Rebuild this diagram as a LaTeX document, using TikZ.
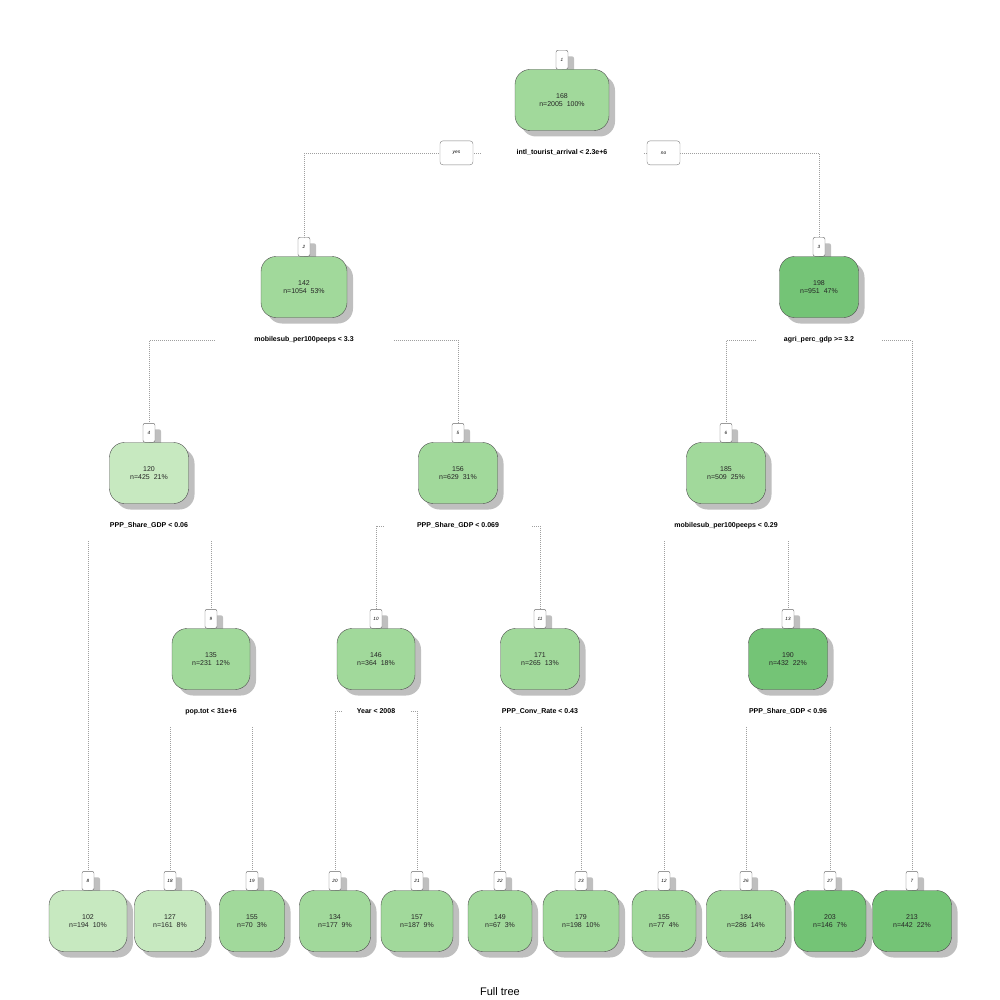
\documentclass[tikz,border=0pt]{standalone}
\usepackage{fontspec}
\setmainfont{Liberation Sans}
\usepackage{tikz}
\usetikzlibrary{positioning,calc,shadows}
\definecolor{leaflight}{HTML}{C7E9C0}
\definecolor{leafmid}{HTML}{A1D99B}
\definecolor{leafdark}{HTML}{74C476}

\begin{document}
\begin{tikzpicture}[x=1pt, y=-1pt,
treebox/.style = {draw=black!70, rounded corners=15pt, minimum height=61pt,
        inner sep=0pt, align=center, text=black!85, font=\fontsize{7}{7.5}\selectfont,
        drop shadow={shadow xshift=6pt, shadow yshift=-6pt, fill=black!25, opacity=1}},
tagbox/.style = {draw=black!60, fill=white, rounded corners=2pt, minimum width=12pt,
        minimum height=19pt, inner sep=0pt, font=\fontsize{4.6}{5}\selectfont\itshape,
        drop shadow={shadow xshift=6pt, shadow yshift=-6pt, fill=black!25, opacity=1}},
splitlab/.style = {inner sep=0pt, font=\fontsize{7}{8}\selectfont\bfseries},
yesno/.style = {draw=black!50, fill=white, rounded corners=3pt, minimum width=33pt,
        minimum height=24pt, inner sep=0pt, font=\fontsize{4.8}{5}\selectfont\itshape},
branch/.style = {draw=gray!75, dash pattern=on 0.5pt off 1.5pt, line width=0.5pt}
                    ]
\useasboundingbox (0,0) rectangle (1000,1000);
\def\treedata{1/562/100/168/2005/100/94/leafmid, 2/304/287/142/1054/53/86/leafmid,
  3/819/287/198/951/47/79/leafdark, 4/149/473/120/425/21/79/leaflight,
  5/458/473/156/629/31/79/leafmid, 6/726/473/185/509/25/79/leafmid,
  9/211/659/135/231/12/78/leafmid, 10/376/659/146/364/18/78/leafmid,
  11/540/659/171/265/13/79/leafmid, 13/788/659/190/432/22/79/leafdark,
  8/88/921/102/194/10/78/leaflight, 18/170/921/127/161/8/71/leaflight,
  19/252/921/155/70/3/65/leafmid, 20/335/921/134/177/9/71/leafmid,
  21/417/921/157/187/9/72/leafmid, 22/500/921/149/67/3/64/leafmid,
  23/581/921/179/198/10/76/leafmid, 12/664/921/155/77/4/64/leafmid,
  26/746/921/184/286/14/79/leafmid, 27/830/921/203/146/7/72/leafdark,
  7/912/921/213/442/22/79/leafdark}
% node numbers first, so the boxes cover their shadows
\foreach \nm/\x/\y/\val/\cnt/\pct/\w/\col in \treedata
    \node[tagbox, anchor=south] (t\nm) at (\x,\y-30.5) {\nm};
\foreach \nm/\x/\y/\val/\cnt/\pct/\w/\col in \treedata
    \node[treebox, fill=\col, minimum width=\w pt] (b\nm) at (\x,\y)
        {\val\\n=\cnt\ \ \pct\%};
%
\foreach \s/\txt in {1/{intl\_tourist\_arrival < 2.3e+6},
        2/{mobilesub\_per100peeps < 3.3}, 3/{agri\_perc\_gdp >= 3.2},
        4/{PPP\_Share\_GDP < 0.06}, 5/{PPP\_Share\_GDP < 0.069},
        6/{mobilesub\_per100peeps < 0.29}, 9/{pop.tot < 31e+6},
        10/{Year < 2008}, 11/{PPP\_Conv\_Rate < 0.43},
        13/{PPP\_Share\_GDP < 0.96}}
    \node[splitlab, below=19pt of b\s] (s\s) {\txt};
%
\foreach \s/\c in {1/2, 2/4, 3/6, 5/10, 10/20}
    \draw[branch] ($(s\s.west)!-0.4!(s\s.east)$) -| (t\c.north);
\foreach \s/\c in {1/3, 2/5, 3/7, 5/11, 10/21}
    \draw[branch] ($(s\s.east)!-0.4!(s\s.west)$) -| (t\c.north);
\foreach \s/\c in {4/8, 4/9, 6/12, 6/13, 9/18, 9/19, 11/22, 11/23, 13/26, 13/27}
    \draw[branch] ($(s\s.center -| t\c.north)+(0,15)$) -- (t\c.north);
%
\node[yesno] (yes) at ($(s1.west)+(-60,0)$) {yes};
\node[yesno] (no) at ($(s1.east)+(56,0)$) {no};
\node[font=\fontsize{11}{13}\selectfont] (title) at (500,992) {Full tree};
\end{tikzpicture}
\end{document}
